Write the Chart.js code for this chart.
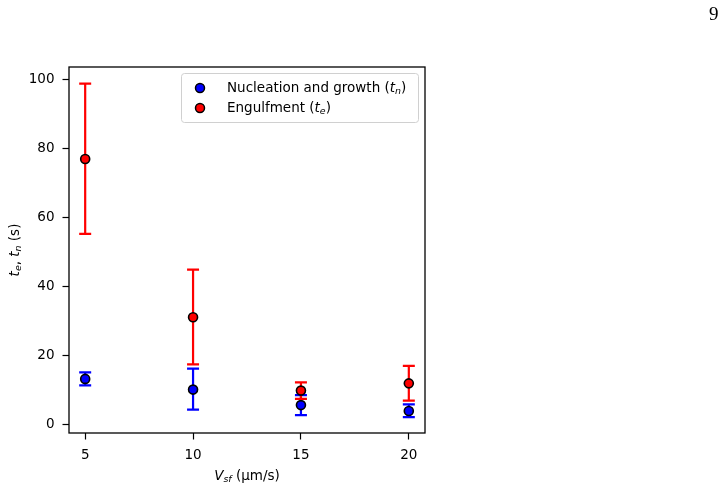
<!DOCTYPE html>
<html>
<head>
<meta charset="utf-8">
<script src="https://cdn.jsdelivr.net/npm/chart.js@4.4.0/dist/chart.umd.min.js"></script>
<style>
  html, body { margin: 0; padding: 0; background: #fff; }
  #wrap { position: relative; width: 727px; height: 491px; }
  #page { position: absolute; left: 709px; top: 3px; font-family: "Liberation Serif", "DejaVu Serif", serif; font-size: 19px; color: #000; }
</style>
</head>
<body>
<div id="wrap">
  <canvas id="c" width="727" height="491"></canvas>
  <div id="page">9</div>
</div>
<script>
// ---- data ----
const vsf = [5, 10, 15, 20];                 // V_sf (µm/s)
const tn = [13.1, 10.0, 5.5, 3.8];           // nucleation and growth time (s)
const tnLow = [11.2, 4.2, 2.6, 2.0];
const tnHigh = [15.0, 16.1, 8.4, 5.7];
const te = [76.9, 31.0, 9.7, 11.8];          // engulfment time (s)
const teLow = [55.2, 17.3, 7.3, 6.8];
const teHigh = [98.8, 44.8, 12.1, 16.9];
const xTicks = [5, 10, 15, 20];
const yTicks = [0, 20, 40, 60, 80, 100];
const seriesLabels = ["Nucleation and growth", "Engulfment"];

const FONT = '"DejaVu Sans", sans-serif';
const FS = 13.5;

function toPoints(xs, ys) { return xs.map((x, i) => ({ x: x, y: ys[i] })); }

// draw mixed rich text: segments [{t, it, sub}]
function richWidth(ctx, segs, fs) {
  let w = 0;
  segs.forEach(s => {
    const size = s.sub ? fs * 0.7 : fs;
    ctx.font = (s.it ? 'italic ' : '') + size + 'px ' + FONT;
    w += ctx.measureText(s.t).width;
  });
  return w;
}
function drawRich(ctx, segs, x, y, fs) {
  ctx.textBaseline = 'middle';
  ctx.textAlign = 'left';
  let cx = x;
  segs.forEach(s => {
    const size = s.sub ? fs * 0.7 : fs;
    ctx.font = (s.it ? 'italic ' : '') + size + 'px ' + FONT;
    ctx.fillText(s.t, cx, y + (s.sub ? fs * 0.28 : 0));
    cx += ctx.measureText(s.t).width;
  });
}

const errorBars = {
  id: 'errorBars',
  beforeDatasetDraw(chart, args) {
    const ds = chart.data.datasets[args.index];
    if (!ds.errLow) return;
    const xs = chart.scales.x, ys = chart.scales.y, ctx = chart.ctx;
    ctx.save();
    ctx.strokeStyle = ds.backgroundColor;
    ctx.lineWidth = 2.2;
    ds.data.forEach((p, i) => {
      const px = xs.getPixelForValue(p.x);
      const lo = ys.getPixelForValue(ds.errLow[i]);
      const hi = ys.getPixelForValue(ds.errHigh[i]);
      ctx.beginPath();
      ctx.moveTo(px, lo); ctx.lineTo(px, hi);
      ctx.moveTo(px - 6, lo); ctx.lineTo(px + 6, lo);
      ctx.moveTo(px - 6, hi); ctx.lineTo(px + 6, hi);
      ctx.stroke();
    });
    ctx.restore();
  }
};

const decor = {
  id: 'decor',
  afterDraw(chart) {
    const ctx = chart.ctx, a = chart.chartArea;
    ctx.save();
    // frame
    ctx.strokeStyle = '#000';
    ctx.lineWidth = 1.3;
    ctx.strokeRect(a.left, a.top, a.right - a.left, a.bottom - a.top);

    ctx.fillStyle = '#000';
    // x title
    const xt = [{ t: 'V', it: true }, { t: 'sf', it: true, sub: true }, { t: ' (µm/s)' }];
    const xw = richWidth(ctx, xt, FS);
    drawRich(ctx, xt, (a.left + a.right) / 2 - xw / 2, 476, FS);
    // y title
    const yt = [{ t: 't', it: true }, { t: 'e', it: true, sub: true }, { t: ', ' },
                { t: 't', it: true }, { t: 'n', it: true, sub: true }, { t: ' (s)' }];
    const yw = richWidth(ctx, yt, FS);
    ctx.save();
    ctx.translate(15, (a.top + a.bottom) / 2);
    ctx.rotate(-Math.PI / 2);
    drawRich(ctx, yt, -yw / 2, 0, FS);
    ctx.restore();

    // legend
    const lw = 237, lh = 49;
    const lx = a.right - 7 - lw, ly = a.top + 6;
    ctx.fillStyle = 'rgba(255,255,255,0.8)';
    ctx.strokeStyle = '#d0d0d0';
    ctx.lineWidth = 1;
    ctx.beginPath();
    ctx.roundRect(lx + 0.5, ly + 0.5, lw, lh, 3);
    ctx.fill();
    ctx.stroke();
    const rows = [
      { color: '#0000ff', segs: [{ t: seriesLabels[0] + ' (' }, { t: 't', it: true }, { t: 'n', it: true, sub: true }, { t: ')' }] },
      { color: '#ff0000', segs: [{ t: seriesLabels[1] + ' (' }, { t: 't', it: true }, { t: 'e', it: true, sub: true }, { t: ')' }] }
    ];
    rows.forEach((r, i) => {
      const ry = ly + 15 + i * 20;
      ctx.beginPath();
      ctx.arc(lx + 19, ry, 4.5, 0, Math.PI * 2);
      ctx.fillStyle = r.color;
      ctx.fill();
      ctx.lineWidth = 1.5;
      ctx.strokeStyle = '#000';
      ctx.stroke();
      ctx.fillStyle = '#000';
      drawRich(ctx, r.segs, lx + 46, ry, FS);
    });
    ctx.restore();
  }
};

new Chart(document.getElementById('c'), {
  type: 'scatter',
  data: {
    datasets: [
      {
        label: seriesLabels[1],
        data: toPoints(vsf, te),
        errLow: teLow, errHigh: teHigh,
        backgroundColor: '#ff0000',
        borderColor: '#000',
        borderWidth: 1.6,
        pointRadius: 4.5,
        pointHoverRadius: 4.5
      },
      {
        label: seriesLabels[0],
        data: toPoints(vsf, tn),
        errLow: tnLow, errHigh: tnHigh,
        backgroundColor: '#0000ff',
        borderColor: '#000',
        borderWidth: 1.6,
        pointRadius: 4.5,
        pointHoverRadius: 4.5
      }
    ]
  },
  options: {
    responsive: false,
    animation: false,
    devicePixelRatio: 1,
    layout: { padding: { left: 0, top: 67, right: 302, bottom: 18 } },
    plugins: { legend: { display: false }, tooltip: { enabled: false } },
    scales: {
      x: {
        type: 'linear',
        min: 4.25, max: 20.75,
        afterBuildTicks: s => { s.ticks = xTicks.map(v => ({ value: v })); },
        afterFit: s => { s.height = 40; },
        grid: { drawOnChartArea: false, drawTicks: true, tickLength: 6.5, tickWidth: 1.2, color: '#000' },
        border: { display: false },
        ticks: { color: '#000', padding: 8, font: { family: FONT, size: FS }, maxRotation: 0 }
      },
      y: {
        type: 'linear',
        min: -2.6, max: 103.6,
        afterBuildTicks: s => { s.ticks = yTicks.map(v => ({ value: v })); },
        afterFit: s => { s.width = 69; },
        grid: { drawOnChartArea: false, drawTicks: true, tickLength: 6.5, tickWidth: 1.2, color: '#000' },
        border: { display: false },
        ticks: { color: '#000', padding: 8, font: { family: FONT, size: FS } }
      }
    }
  },
  plugins: [errorBars, decor]
});
</script>
</body>
</html>
